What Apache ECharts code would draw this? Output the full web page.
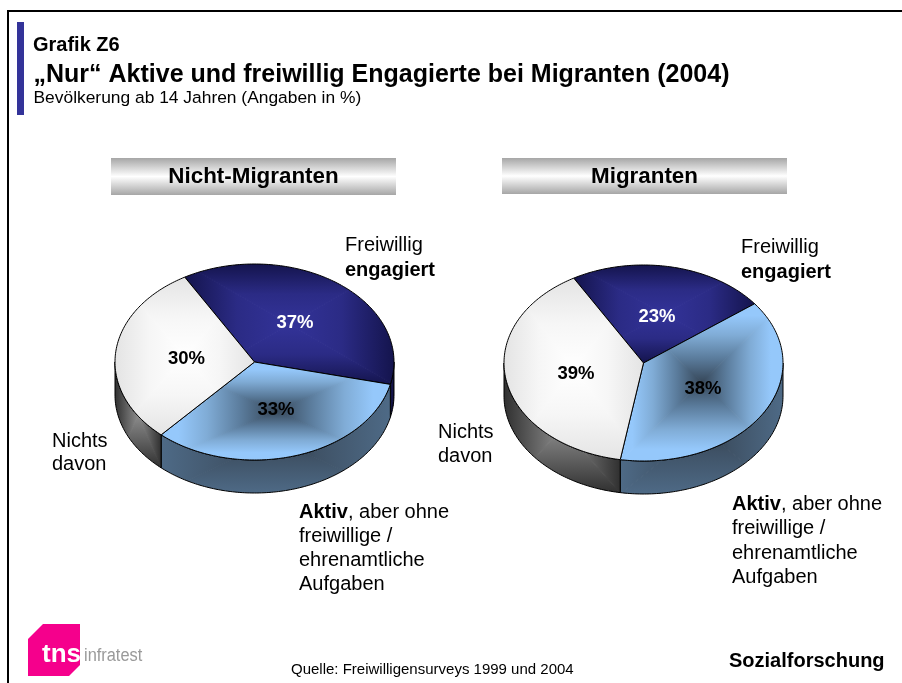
<!DOCTYPE html>
<html>
<head>
<meta charset="utf-8">
<title>Grafik Z6</title>
<style>
  html, body { margin: 0; padding: 0; background: #fff; }
  #chart { width: 902px; height: 683px; }
</style>
<script src="https://cdn.jsdelivr.net/npm/echarts@6/dist/echarts.min.js"></script>
</head>
<body>
<div id="chart"></div>
<script>
const sliceNames = ['Freiwillig engagiert', 'Aktiv, aber ohne freiwillige / ehrenamtliche Aufgaben', 'Nichts davon'];
const nichtMigranten = [37, 33, 30];
const migranten = [23, 38, 39];
const panelTitles = ['Nicht-Migranten', 'Migranten'];

const FONT = '"Liberation Sans", Arial, sans-serif';
const START_ANGLE = 330; // clockwise from 12 o'clock
const PIES = [
  { cx: 254.5, cy: 362, labels: [[295, 323], [276, 410], [186.5, 359]] },
  { cx: 643.5, cy: 363, labels: [[657, 317], [703, 389], [576, 374]] },
];
const RX = 139.5;
const RY = 98;
const DEPTH = 33;

// rectangle-from-centre shading, as the slide gradient does it
const TOP_STOPS = [
  [[0, '#333399'], [0.5, '#2b2b85'], [1, '#14144d']],
  [[0, '#364759'], [0.3, '#5a7b9b'], [0.6, '#80acd6'], [0.85, '#95c8fb'], [1, '#95c8fb']],
  [[0, '#ffffff'], [0.5, '#f6f6f6'], [1, '#e4e4e4']],
];
const WALL_STOPS = [
  [[0, '#14144d'], [1, '#0a0a2e']],
  [[0, '#2b3744'], [0.35, '#3f5266'], [1, '#4e6a86']],
  [[0, '#8c8c8c'], [0.5, '#5f5f5f'], [1, '#303030']],
];
const LABEL_COLORS = ['#ffffff', '#000000', '#000000'];

function ellipsePoint(pie, deg, dy) {
  const a = deg * Math.PI / 180;
  return [pie.cx + RX * Math.sin(a), pie.cy + dy - RY * Math.cos(a)];
}

function arcPoints(pie, from, to, dy) {
  const pts = [];
  const steps = Math.max(2, Math.ceil(Math.abs(to - from)));
  for (let i = 0; i <= steps; i++) {
    pts.push(ellipsePoint(pie, from + (to - from) * i / steps, dy));
  }
  return pts;
}

function bbox(points) {
  const xs = points.map((p) => p[0]);
  const ys = points.map((p) => p[1]);
  return { x0: Math.min(...xs), x1: Math.max(...xs), y0: Math.min(...ys), y1: Math.max(...ys) };
}

function shadedPolygon(points, stops) {
  const b = bbox(points);
  const mx = (b.x0 + b.x1) / 2;
  const my = (b.y0 + b.y1) / 2;
  const colorStops = stops.map(([offset, color]) => ({ offset, color }));
  const grad = (x, y) => new echarts.graphic.LinearGradient(mx, my, x, y, colorStops, true);
  const sides = [
    [[b.x0, b.y0], [b.x1, b.y0], grad(mx, b.y0)],
    [[b.x1, b.y0], [b.x1, b.y1], grad(b.x1, my)],
    [[b.x1, b.y1], [b.x0, b.y1], grad(mx, b.y1)],
    [[b.x0, b.y1], [b.x0, b.y0], grad(b.x0, my)],
  ];
  return {
    type: 'group',
    children: [
      {
        type: 'group',
        clipPath: { type: 'polygon', shape: { points } },
        // stroking each triangle in its own gradient closes the seams on the diagonals
        children: sides.map(([p, q, fill]) => ({
          type: 'polygon',
          shape: { points: [[mx, my], p, q] },
          style: { fill, stroke: fill, lineWidth: 1 },
        })),
      },
      { type: 'polygon', shape: { points }, style: { fill: 'none', stroke: '#000', lineWidth: 1 } },
    ],
  };
}

function makeRenderItem(pie, values) {
  const total = values.reduce((a, b) => a + b, 0);
  return function (params, api) {
    const i = params.dataIndex;
    const before = values.slice(0, i).reduce((a, b) => a + b, 0);
    const from = START_ANGLE + before / total * 360;
    const to = from + api.value(0) / total * 360;
    const children = [];

    // side wall: the part of the slice on the front half of the ellipse
    for (const turn of [0, 360]) {
      const a = Math.max(from, 90 + turn);
      const b = Math.min(to, 270 + turn);
      if (b > a) {
        const wall = arcPoints(pie, a, b, 0).concat(arcPoints(pie, b, a, DEPTH));
        children.push(shadedPolygon(wall, WALL_STOPS[i]));
      }
    }

    const top = [[pie.cx, pie.cy]].concat(arcPoints(pie, from, to, 0));
    children.push(shadedPolygon(top, TOP_STOPS[i]));

    const [lx, ly] = pie.labels[i];
    children.push({
      type: 'text',
      style: {
        x: lx, y: ly,
        text: api.value(0) + '%',
        font: 'bold 18.5px ' + FONT,
        fill: LABEL_COLORS[i],
        align: 'center',
        verticalAlign: 'middle',
      },
    });
    return { type: 'group', children };
  };
}

function pieSeries(name, pie, values) {
  return {
    type: 'custom',
    name,
    coordinateSystem: 'none',
    silent: true,
    clip: false,
    data: values.map((v, i) => ({ name: sliceNames[i], value: [v] })),
    renderItem: makeRenderItem(pie, values),
  };
}

function text(x, y, str, size, opts = {}) {
  return {
    type: 'text',
    style: Object.assign({
      x, y,
      text: str,
      font: (opts.bold ? 'bold ' : '') + size + 'px ' + FONT,
      fill: opts.color || '#000',
      align: opts.align || 'left',
      verticalAlign: 'middle',
    }, opts.rich ? { rich: opts.rich } : {}),
  };
}

function band(x, y, width, height, label) {
  return [
    {
      type: 'rect',
      shape: { x, y, width, height },
      style: {
        fill: new echarts.graphic.LinearGradient(0, 0, 0, 1, [
          { offset: 0, color: '#a6a6a6' },
          { offset: 0.5, color: '#ffffff' },
          { offset: 1, color: '#a6a6a6' },
        ]),
      },
    },
    text(x + width / 2, y + height / 2 + 0.5, label, 22.4, { bold: true, align: 'center' }),
  ];
}

const aktivRich = (size) => ({
  b: { font: 'bold ' + size + 'px ' + FONT, fill: '#000' },
  n: { font: size + 'px ' + FONT, fill: '#000' },
});

const elements = [
  // frame
  { type: 'rect', shape: { x: 7, y: 10, width: 895, height: 2 }, style: { fill: '#000' } },
  { type: 'rect', shape: { x: 7, y: 10, width: 2, height: 673 }, style: { fill: '#000' } },
  // accent bar
  { type: 'rect', shape: { x: 17, y: 22, width: 7, height: 93 }, style: { fill: '#333399' } },
  text(33, 45, 'Grafik Z6', 20, { bold: true }),
  text(33.5, 75, '„Nur“ Aktive und freiwillig Engagierte bei Migranten (2004)', 25, { bold: true }),
  text(33.5, 98, 'Bevölkerung ab 14 Jahren (Angaben in %)', 17.4),
  ...band(111, 158, 285, 37, panelTitles[0]),
  ...band(502, 158, 285, 36, panelTitles[1]),

  // left pie captions
  text(345, 245, 'Freiwillig', 20),
  text(345, 270, 'engagiert', 20, { bold: true }),
  text(52, 441, 'Nichts', 20),
  text(52, 464, 'davon', 20),
  text(299, 512, '{b|Aktiv}{n|, aber ohne}', 20, { rich: aktivRich(20) }),
  text(299, 536, 'freiwillige /', 20),
  text(299, 560, 'ehrenamtliche', 20),
  text(299, 584, 'Aufgaben', 20),

  // right pie captions
  text(741, 247, 'Freiwillig', 20),
  text(741, 272, 'engagiert', 20, { bold: true }),
  text(438, 432, 'Nichts', 20),
  text(438, 456, 'davon', 20),
  text(732, 504, '{b|Aktiv}{n|, aber ohne}', 20, { rich: aktivRich(20) }),
  text(732, 528, 'freiwillige /', 20),
  text(732, 553, 'ehrenamtliche', 20),
  text(732, 577, 'Aufgaben', 20),

  // footer
  text(291, 670, 'Quelle: Freiwilligensurveys 1999 und 2004', 15),
  text(729, 661, 'Sozialforschung', 20, { bold: true }),

  // logo
  {
    type: 'polygon',
    shape: { points: [[28, 639], [43, 624], [80, 624], [80, 665], [69, 676], [28, 676]] },
    style: { fill: '#f5008c' },
  },
  text(42, 655, 'tns', 26, { bold: true, color: '#ffffff' }),
  {
    type: 'text',
    x: 84, y: 656, scaleX: 0.91,
    style: {
      x: 0, y: 0,
      text: 'infratest',
      font: '18px ' + FONT,
      fill: '#9a9a9a',
      align: 'left',
      verticalAlign: 'middle',
    },
  },
];

const chart = echarts.init(document.getElementById('chart'), null, { renderer: 'canvas' });
chart.setOption({
  animation: false,
  backgroundColor: '#ffffff',
  graphic: { elements },
  series: [
    pieSeries(panelTitles[0], PIES[0], nichtMigranten),
    pieSeries(panelTitles[1], PIES[1], migranten),
  ],
});
</script>
</body>
</html>
